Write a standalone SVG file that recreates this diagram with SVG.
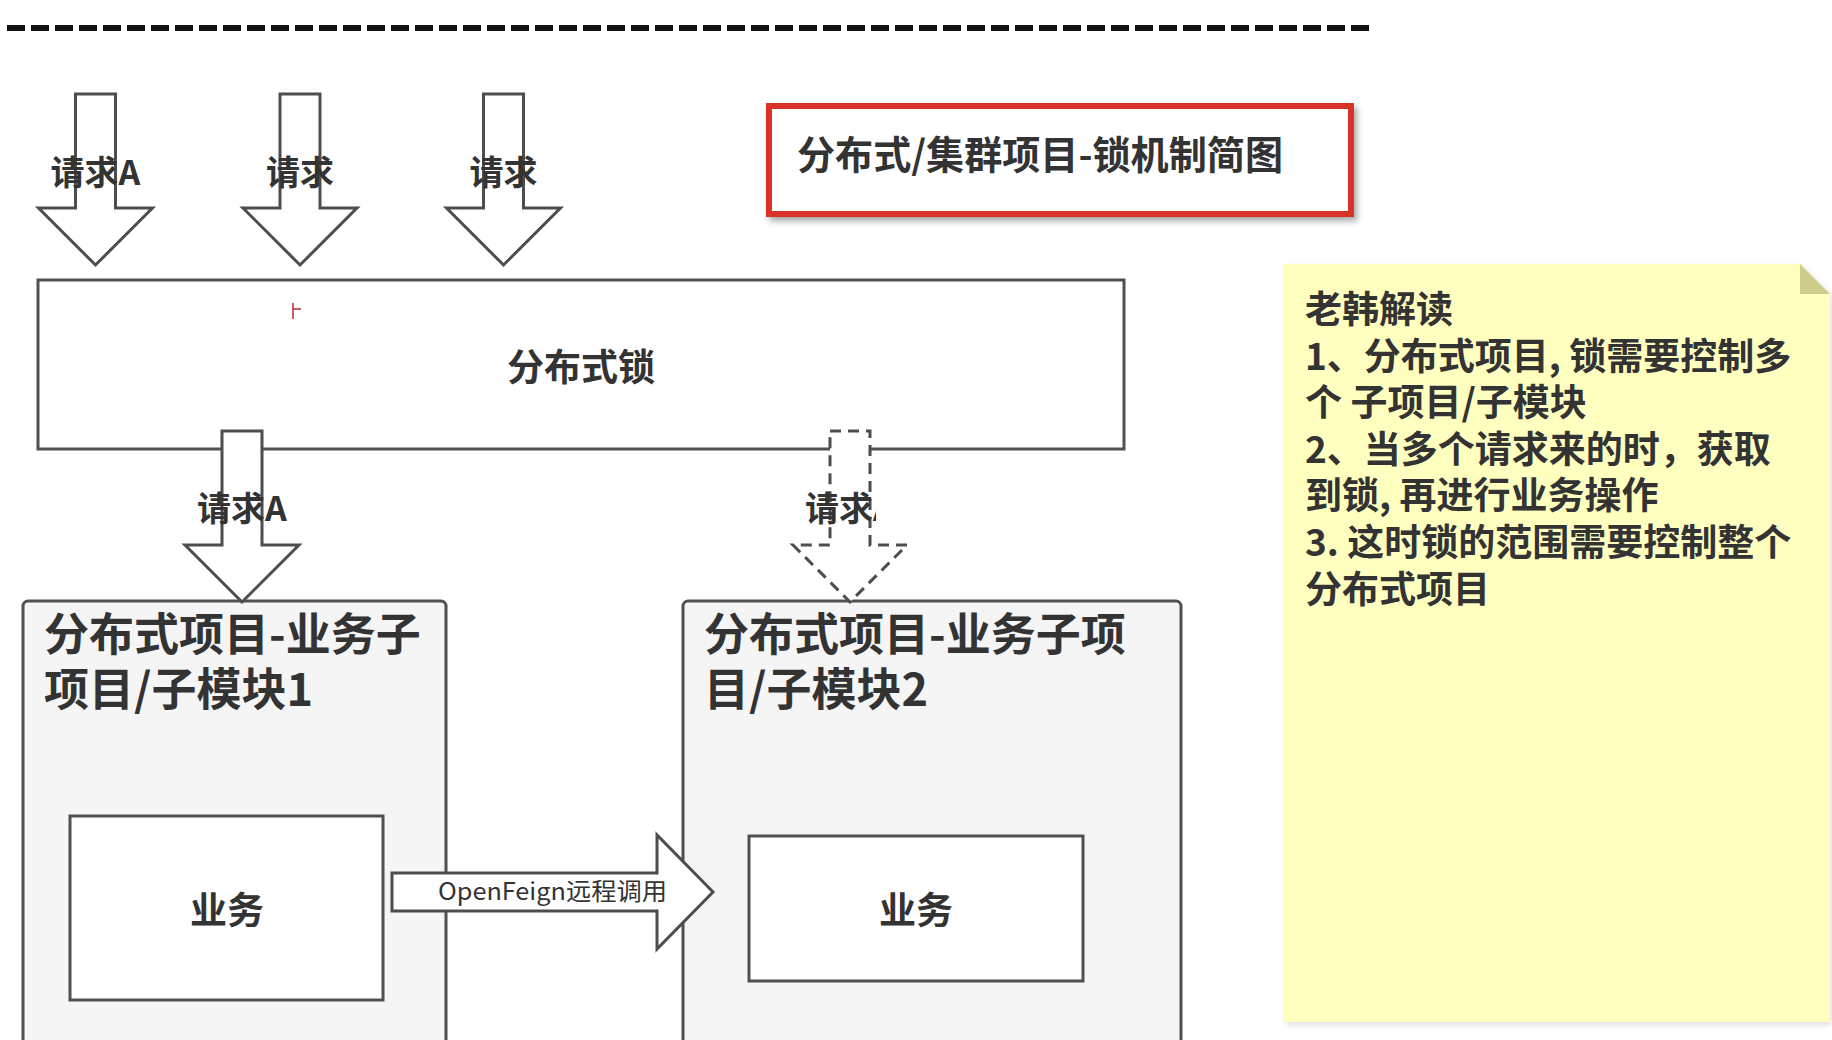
<svg xmlns="http://www.w3.org/2000/svg" width="1832" height="1040" viewBox="0 0 1832 1040">
  <style>
    .t { font-family: "Noto Sans CJK SC", "Microsoft YaHei", "Noto Sans", sans-serif; fill: #333333; font-weight: 700; }
    .box { fill: #ffffff; stroke: #505050; stroke-width: 3; }
    .mod { fill: #f5f5f5; stroke: #505050; stroke-width: 3; }
    .arr { fill: #ffffff; stroke: #4d4d4d; stroke-width: 3; stroke-linejoin: miter; }
    .arr-dash { fill: #ffffff; stroke: #4d4d4d; stroke-width: 3; stroke-dasharray: 11 7; }
  </style>
  <defs>
    <path id="downArrow" d="M-20,0 H20 V114 H57 L0,171 L-57,114 H-20 Z"/>
    <filter id="shadow" x="-10%" y="-10%" width="130%" height="140%">
      <feDropShadow dx="3" dy="4" stdDeviation="3" flood-color="#000000" flood-opacity="0.35"/>
    </filter>
    <filter id="noteShadow" x="-5%" y="-5%" width="110%" height="110%">
      <feDropShadow dx="2" dy="3" stdDeviation="3" flood-color="#000000" flood-opacity="0.12"/>
    </filter>
    <clipPath id="clipDashLabel">
      <rect x="700" y="440" width="176" height="120"/>
    </clipPath>
  </defs>

  <rect width="1832" height="1040" fill="#ffffff"/>

  <!-- top dashed separator -->
  <line id="separator" x1="7" y1="28" x2="1373" y2="28" stroke="#111111" stroke-width="6" stroke-dasharray="18 6"/>

  <!-- title -->
  <g id="title">
    <rect x="769" y="106" width="582" height="108" fill="#ffffff" stroke="#d9302a" stroke-width="6" filter="url(#shadow)"/>
    <text class="t" x="797" y="169" font-size="39" textLength="486" lengthAdjust="spacingAndGlyphs">分布式/集群项目-锁机制简图</text>
  </g>

  <!-- distributed lock box -->
  <g id="lock">
    <rect class="box" x="38" y="280" width="1086" height="169"/>
    <text class="t" x="581" y="381" font-size="37" text-anchor="middle">分布式锁</text>
    <path d="M293,303 V319 M293,309 H301" stroke="#c0283a" stroke-width="1.5" fill="none"/>
  </g>

  <!-- module boxes -->
  <g id="module1">
    <rect class="mod" x="23" y="601" width="423" height="470" rx="5"/>
    <text class="t" x="44" y="651" font-size="45">分布式项目-业务子</text>
    <text class="t" x="44" y="706" font-size="45">项目/子模块1</text>
  </g>
  <g id="module2">
    <rect class="mod" x="683" y="601" width="498" height="470" rx="5"/>
    <text class="t" x="704" y="651" font-size="45">分布式项目-业务子项</text>
    <text class="t" x="704" y="706" font-size="45">目/子模块2</text>
  </g>

  <g id="biz1">
    <rect class="box" x="70" y="816" width="313" height="184"/>
    <text class="t" x="227" y="924" font-size="37" text-anchor="middle">业务</text>
  </g>
  <g id="biz2">
    <rect class="box" x="749" y="836" width="334" height="145"/>
    <text class="t" x="916" y="924" font-size="37" text-anchor="middle">业务</text>
  </g>

  <!-- connectors (block arrows) -->
  <g id="connectors">
    <g id="reqA-in">
      <use href="#downArrow" class="arr" x="95.5" y="94"/>
      <text class="t" x="95.5" y="185" font-size="34" text-anchor="middle">请求A</text>
    </g>
    <g id="req2-in">
      <use href="#downArrow" class="arr" x="300" y="94"/>
      <text class="t" x="300" y="185" font-size="34" text-anchor="middle">请求</text>
    </g>
    <g id="req3-in">
      <use href="#downArrow" class="arr" x="503.5" y="94"/>
      <text class="t" x="503.5" y="185" font-size="34" text-anchor="middle">请求</text>
    </g>
    <g id="reqA-out">
      <use href="#downArrow" class="arr" x="242" y="431"/>
      <text class="t" x="242" y="521" font-size="34" text-anchor="middle">请求A</text>
    </g>
    <g id="reqB-out">
      <use href="#downArrow" class="arr-dash" x="850" y="431"/>
      <text class="t" x="850" y="521" font-size="34" text-anchor="middle" clip-path="url(#clipDashLabel)">请求A</text>
    </g>
    <g id="openfeign">
      <path class="arr" d="M392,873 H657 V835 L713,892 L657,949 V911 H392 Z"/>
      <text x="438" y="900" font-size="24" textLength="229" lengthAdjust="spacingAndGlyphs" style="font-family: 'Noto Sans CJK SC', 'Noto Sans', sans-serif; fill: #333333;">OpenFeign远程调用</text>
    </g>
  </g>

  <!-- sticky note -->
  <g id="note">
    <path d="M1284,264 H1800 L1830,294 V1022 H1284 Z" fill="#ffffc0" filter="url(#noteShadow)"/>
    <path d="M1800,264 V294 H1830 Z" fill="#cccc8c"/>
    <text class="t" font-size="37">
      <tspan x="1305" y="323">老韩解读</tspan>
      <tspan x="1305" y="369.6">1、分布式项目, 锁需要控制多</tspan>
      <tspan x="1305" y="416.2">个 子项目/子模块</tspan>
      <tspan x="1305" y="462.8">2、当多个请求来的时，获取</tspan>
      <tspan x="1305" y="509.4">到锁, 再进行业务操作</tspan>
      <tspan x="1305" y="556">3. 这时锁的范围需要控制整个</tspan>
      <tspan x="1305" y="602.6">分布式项目</tspan>
    </text>
  </g>
</svg>
